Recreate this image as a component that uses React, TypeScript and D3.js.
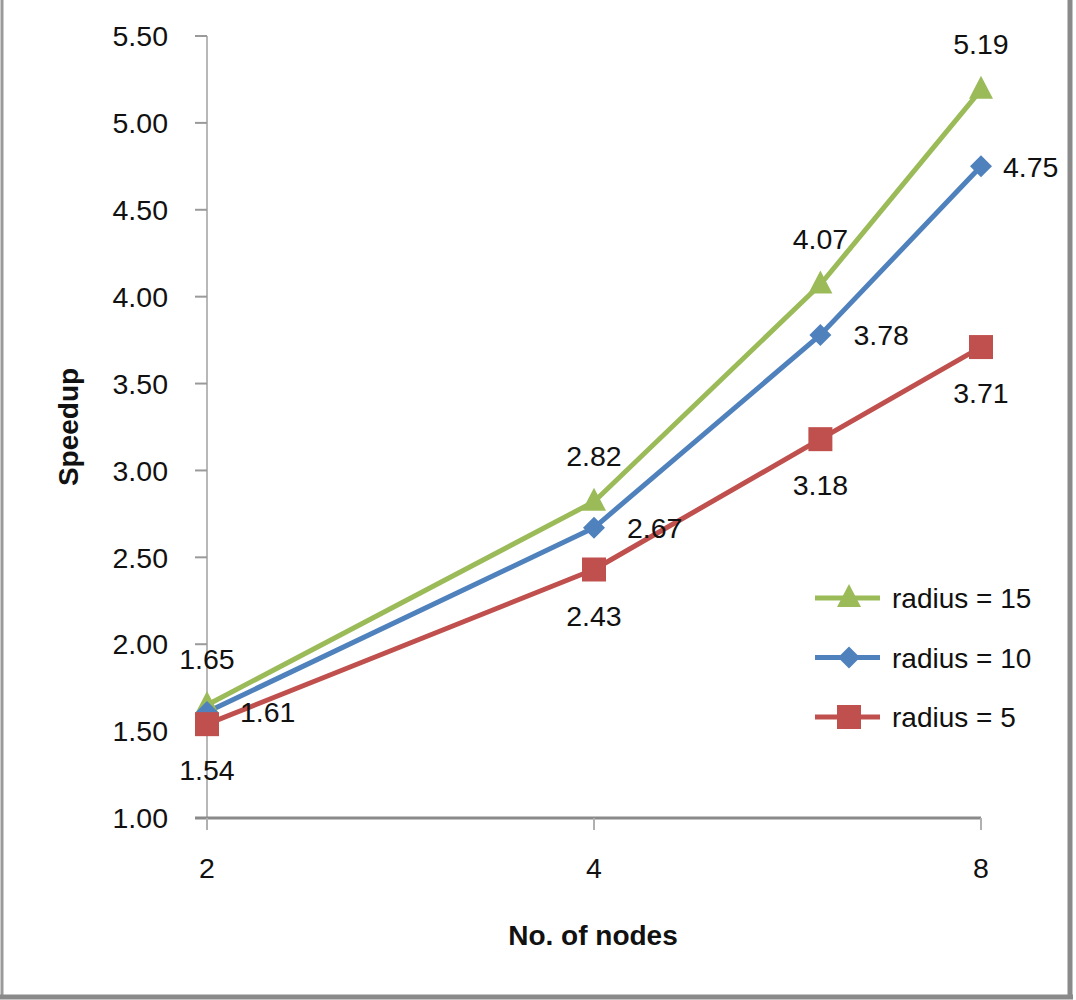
import React from "react";
import * as d3 from "d3";

const nodes = [2, 4, 6, 8];
const seriesNames = ["radius = 15", "radius = 10", "radius = 5"];
const radius15 = [1.65, 2.82, 4.07, 5.19];
const radius10 = [1.61, 2.67, 3.78, 4.75];
const radius5 = [1.54, 2.43, 3.18, 3.71];
const xTicks = [2, 4, 8];
const yTicks = [1, 1.5, 2, 2.5, 3, 3.5, 4, 4.5, 5, 5.5];

const W = 1076;
const H = 1000;
const FONT = "'Liberation Sans', Arial, sans-serif";

const series = [
  { name: seriesNames[0], values: radius15, color: "#9BBB59", marker: "triangle", label: "above" },
  { name: seriesNames[1], values: radius10, color: "#4F81BD", marker: "diamond", label: "right" },
  { name: seriesNames[2], values: radius5, color: "#C0504D", marker: "square", label: "below" },
];

function Marker({ type, x, y, color }: { type: string; x: number; y: number; color: string }) {
  if (type === "square") {
    return <rect x={x - 12} y={y - 12} width={24} height={24} fill={color} />;
  }
  if (type === "diamond") {
    return <path d={`M${x},${y - 11}L${x + 11},${y}L${x},${y + 11}L${x - 11},${y}Z`} fill={color} />;
  }
  return <path d={`M${x},${y - 14}L${x + 12},${y + 9}L${x - 12},${y + 9}Z`} fill={color} />;
}

export default function App() {
  const x = d3.scaleLog().base(2).domain([2, 8]).range([207, 981]);
  const y = d3.scaleLinear().domain([1, 5.5]).range([818, 36]);
  const line = d3
    .line<number>()
    .x((_, i) => x(nodes[i]))
    .y((d) => y(d));

  const drawOrder = [0, 1, 2];

  return (
    <svg
      width={W}
      height={H}
      style={{ position: "absolute", left: 0, top: 0, background: "#fff" }}
      fontFamily={FONT}
    >
      <rect x={0} y={0} width={W} height={H} fill="#fff" />
      {/* chart border */}
      <line x1={2} y1={0} x2={2} y2={997} stroke="#9a9a9a" strokeWidth={3} />
      <line x1={1070} y1={0} x2={1070} y2={997} stroke="#8a8a8a" strokeWidth={5} />
      <line x1={0} y1={997} x2={1073} y2={997} stroke="#8a8a8a" strokeWidth={5} />

      {/* y axis */}
      <line x1={x(2)} y1={y(5.5)} x2={x(2)} y2={y(1)} stroke="#b8b8b8" strokeWidth={2} />
      {yTicks.map((t) => (
        <g key={t}>
          <line x1={x(2) - 12} x2={x(2)} y1={y(t)} y2={y(t)} stroke="#9a9a9a" strokeWidth={2} />
          <text x={168} y={y(t)} dy="0.36em" textAnchor="end" fontSize={28.5} fill="#111">
            {t.toFixed(2)}
          </text>
        </g>
      ))}

      {/* x axis */}
      <line x1={x(2) - 12} y1={y(1)} x2={x(8)} y2={y(1)} stroke="#8a8a8a" strokeWidth={3} />
      {xTicks.map((t) => (
        <g key={t}>
          <line x1={x(t)} x2={x(t)} y1={y(1)} y2={y(1) + 12} stroke="#b0b0b0" strokeWidth={2} />
          <text x={x(t)} y={868} dy="0.36em" textAnchor="middle" fontSize={28.5} fill="#111">
            {t}
          </text>
        </g>
      ))}

      {/* axis titles */}
      <text
        transform={`translate(68,427) rotate(-90)`}
        textAnchor="middle"
        dy="0.36em"
        fontSize={28}
        fontWeight="bold"
        fill="#111"
      >
        Speedup
      </text>
      <text x={593} y={935} dy="0.36em" textAnchor="middle" fontSize={28} fontWeight="bold" fill="#111">
        No. of nodes
      </text>

      {/* lines */}
      {drawOrder.map((si) => (
        <path
          key={"l" + si}
          d={line(series[si].values) || ""}
          fill="none"
          stroke={series[si].color}
          strokeWidth={5}
          strokeLinejoin="round"
        />
      ))}
      {/* markers */}
      {drawOrder.map((si) => (
        <g key={"m" + si}>
          {series[si].values.map((v, i) => (
            <Marker key={i} type={series[si].marker} x={x(nodes[i])} y={y(v)} color={series[si].color} />
          ))}
        </g>
      ))}
      {/* data labels */}
      {series.map((s, si) => (
        <g key={"t" + si}>
          {s.values.map((v, i) => {
            const px = x(nodes[i]);
            const py = y(v);
            if (s.label === "above")
              return (
                <text key={i} x={px} y={py - 46} dy="0.36em" textAnchor="middle" fontSize={28.5} fill="#111">
                  {v.toFixed(2)}
                </text>
              );
            if (s.label === "below")
              return (
                <text key={i} x={px} y={py + 46} dy="0.36em" textAnchor="middle" fontSize={28.5} fill="#111">
                  {v.toFixed(2)}
                </text>
              );
            return (
              <text
                key={i}
                x={Math.min(px + 33, 1003)}
                y={py}
                dy="0.36em"
                textAnchor="start"
                fontSize={28.5}
                fill="#111"
              >
                {v.toFixed(2)}
              </text>
            );
          })}
        </g>
      ))}

      {/* legend */}
      {series.map((s, si) => {
        const ly = 598 + si * 59.5;
        return (
          <g key={"lg" + si}>
            <line x1={815} x2={880} y1={ly} y2={ly} stroke={s.color} strokeWidth={5} />
            <Marker type={s.marker} x={849} y={ly} color={s.color} />
            <text x={892} y={ly} dy="0.36em" fontSize={28} fill="#111">
              {s.name}
            </text>
          </g>
        );
      })}
    </svg>
  );
}
